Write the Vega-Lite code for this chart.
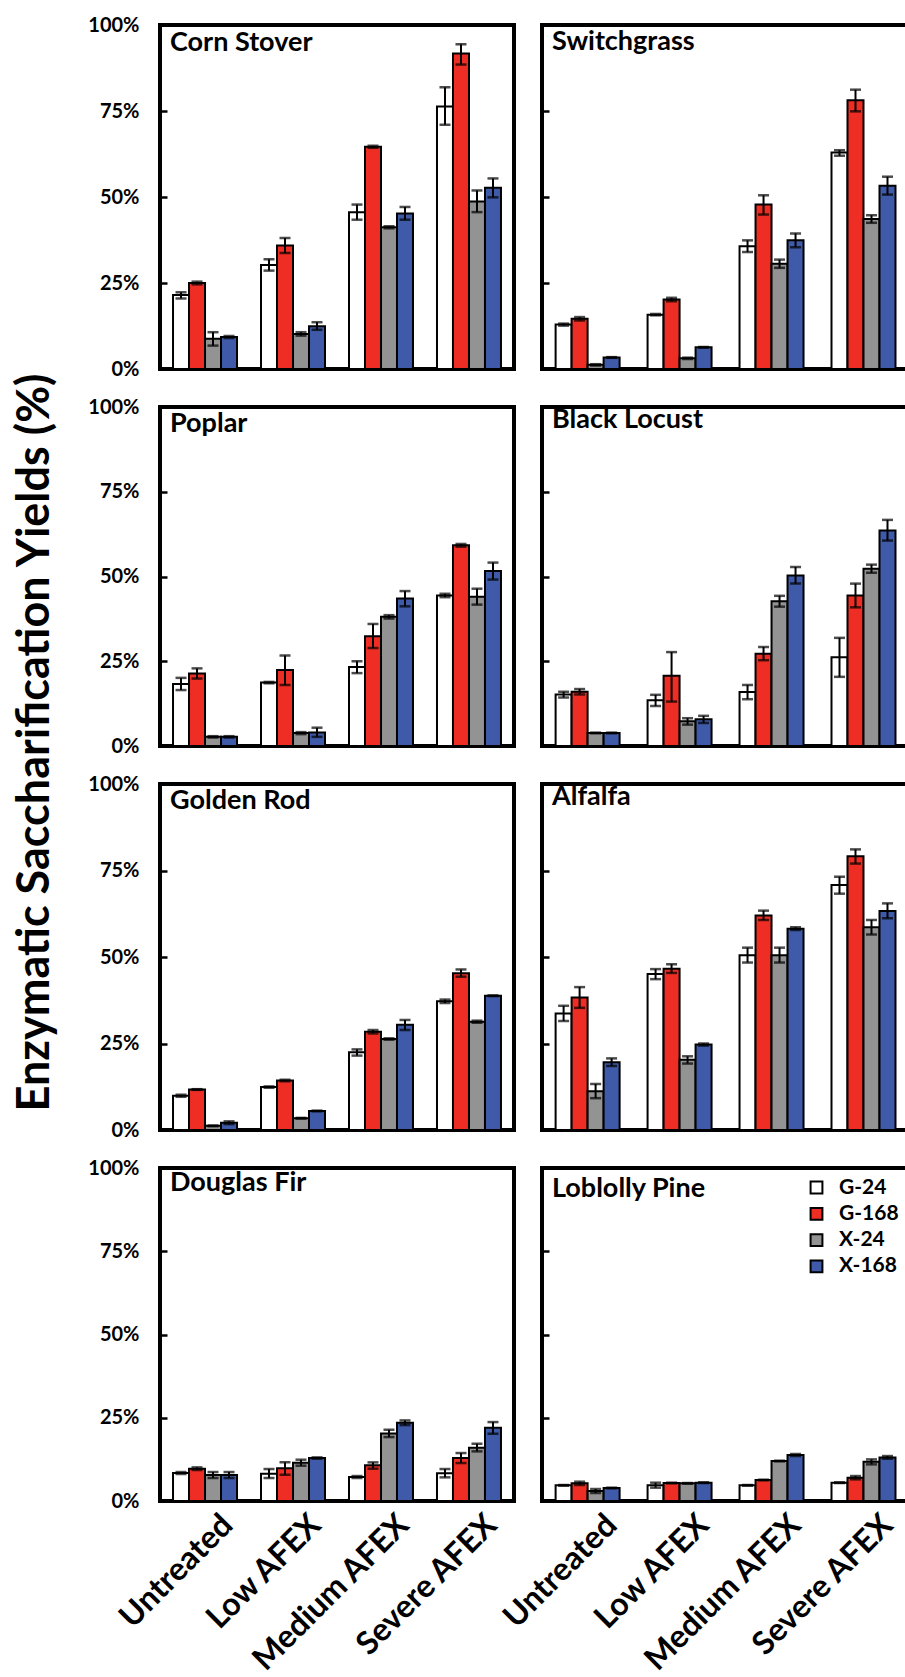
{
  "$schema": "https://vega.github.io/schema/vega-lite/v6.json",
  "padding": {"left": 9, "top": 13, "right": 0, "bottom": 0},
  "background": "white",
  "data": {"values": [
    {"panel":"Corn Stover","treatment":"Untreated","series":"G-24","value":21.5,"lo":20.5,"hi":22.3},
    {"panel":"Corn Stover","treatment":"Untreated","series":"G-168","value":25.0,"lo":24.6,"hi":25.4},
    {"panel":"Corn Stover","treatment":"Untreated","series":"X-24","value":8.8,"lo":6.8,"hi":10.7},
    {"panel":"Corn Stover","treatment":"Untreated","series":"X-168","value":9.3,"lo":9.0,"hi":9.6},
    {"panel":"Corn Stover","treatment":"Low AFEX","series":"G-24","value":30.2,"lo":28.6,"hi":31.9},
    {"panel":"Corn Stover","treatment":"Low AFEX","series":"G-168","value":35.9,"lo":33.7,"hi":38.1},
    {"panel":"Corn Stover","treatment":"Low AFEX","series":"X-24","value":10.2,"lo":9.7,"hi":10.7},
    {"panel":"Corn Stover","treatment":"Low AFEX","series":"X-168","value":12.4,"lo":11.4,"hi":13.6},
    {"panel":"Corn Stover","treatment":"Medium AFEX","series":"G-24","value":45.6,"lo":43.4,"hi":47.8},
    {"panel":"Corn Stover","treatment":"Medium AFEX","series":"G-168","value":64.6,"lo":64.3,"hi":64.9},
    {"panel":"Corn Stover","treatment":"Medium AFEX","series":"X-24","value":41.2,"lo":40.9,"hi":41.5},
    {"panel":"Corn Stover","treatment":"Medium AFEX","series":"X-168","value":45.2,"lo":43.4,"hi":47.1},
    {"panel":"Corn Stover","treatment":"Severe AFEX","series":"G-24","value":76.3,"lo":71.0,"hi":81.9},
    {"panel":"Corn Stover","treatment":"Severe AFEX","series":"G-168","value":91.7,"lo":88.5,"hi":94.4},
    {"panel":"Corn Stover","treatment":"Severe AFEX","series":"X-24","value":48.7,"lo":45.6,"hi":51.9},
    {"panel":"Corn Stover","treatment":"Severe AFEX","series":"X-168","value":52.7,"lo":49.9,"hi":55.4},

    {"panel":"Switchgrass","treatment":"Untreated","series":"G-24","value":12.9,"lo":12.6,"hi":13.2},
    {"panel":"Switchgrass","treatment":"Untreated","series":"G-168","value":14.6,"lo":14.1,"hi":15.1},
    {"panel":"Switchgrass","treatment":"Untreated","series":"X-24","value":1.2,"lo":1.0,"hi":1.4},
    {"panel":"Switchgrass","treatment":"Untreated","series":"X-168","value":3.35,"lo":3.25,"hi":3.45},
    {"panel":"Switchgrass","treatment":"Low AFEX","series":"G-24","value":15.8,"lo":15.6,"hi":16.0},
    {"panel":"Switchgrass","treatment":"Low AFEX","series":"G-168","value":20.2,"lo":19.7,"hi":20.7},
    {"panel":"Switchgrass","treatment":"Low AFEX","series":"X-24","value":3.1,"lo":2.9,"hi":3.3},
    {"panel":"Switchgrass","treatment":"Low AFEX","series":"X-168","value":6.3,"lo":6.2,"hi":6.4},
    {"panel":"Switchgrass","treatment":"Medium AFEX","series":"G-24","value":35.7,"lo":34.0,"hi":37.4},
    {"panel":"Switchgrass","treatment":"Medium AFEX","series":"G-168","value":47.8,"lo":44.9,"hi":50.5},
    {"panel":"Switchgrass","treatment":"Medium AFEX","series":"X-24","value":30.6,"lo":29.4,"hi":31.8},
    {"panel":"Switchgrass","treatment":"Medium AFEX","series":"X-168","value":37.4,"lo":35.4,"hi":39.4},
    {"panel":"Switchgrass","treatment":"Severe AFEX","series":"G-24","value":62.9,"lo":62.0,"hi":63.6},
    {"panel":"Switchgrass","treatment":"Severe AFEX","series":"G-168","value":78.1,"lo":74.9,"hi":81.2},
    {"panel":"Switchgrass","treatment":"Severe AFEX","series":"X-24","value":43.6,"lo":42.5,"hi":44.7},
    {"panel":"Switchgrass","treatment":"Severe AFEX","series":"X-168","value":53.3,"lo":50.7,"hi":55.9},

    {"panel":"Poplar","treatment":"Untreated","series":"G-24","value":18.3,"lo":16.5,"hi":20.1},
    {"panel":"Poplar","treatment":"Untreated","series":"G-168","value":21.4,"lo":19.9,"hi":22.9},
    {"panel":"Poplar","treatment":"Untreated","series":"X-24","value":2.7,"lo":2.5,"hi":2.9},
    {"panel":"Poplar","treatment":"Untreated","series":"X-168","value":2.7,"lo":2.5,"hi":2.9},
    {"panel":"Poplar","treatment":"Low AFEX","series":"G-24","value":18.7,"lo":18.5,"hi":18.9},
    {"panel":"Poplar","treatment":"Low AFEX","series":"G-168","value":22.4,"lo":18.0,"hi":26.7},
    {"panel":"Poplar","treatment":"Low AFEX","series":"X-24","value":3.8,"lo":3.5,"hi":4.1},
    {"panel":"Poplar","treatment":"Low AFEX","series":"X-168","value":4.0,"lo":2.7,"hi":5.4},
    {"panel":"Poplar","treatment":"Medium AFEX","series":"G-24","value":23.3,"lo":21.5,"hi":25.0},
    {"panel":"Poplar","treatment":"Medium AFEX","series":"G-168","value":32.4,"lo":28.9,"hi":36.0},
    {"panel":"Poplar","treatment":"Medium AFEX","series":"X-24","value":38.1,"lo":37.6,"hi":38.6},
    {"panel":"Poplar","treatment":"Medium AFEX","series":"X-168","value":43.5,"lo":41.2,"hi":45.7},
    {"panel":"Poplar","treatment":"Severe AFEX","series":"G-24","value":44.4,"lo":43.9,"hi":44.9},
    {"panel":"Poplar","treatment":"Severe AFEX","series":"G-168","value":59.2,"lo":58.8,"hi":59.6},
    {"panel":"Poplar","treatment":"Severe AFEX","series":"X-24","value":44.0,"lo":41.7,"hi":46.4},
    {"panel":"Poplar","treatment":"Severe AFEX","series":"X-168","value":51.6,"lo":49.1,"hi":54.1},

    {"panel":"Black Locust","treatment":"Untreated","series":"G-24","value":15.2,"lo":14.3,"hi":16.0},
    {"panel":"Black Locust","treatment":"Untreated","series":"G-168","value":16.0,"lo":15.2,"hi":16.8},
    {"panel":"Black Locust","treatment":"Untreated","series":"X-24","value":3.85,"lo":3.75,"hi":3.95},
    {"panel":"Black Locust","treatment":"Untreated","series":"X-168","value":3.85,"lo":3.75,"hi":3.95},
    {"panel":"Black Locust","treatment":"Low AFEX","series":"G-24","value":13.5,"lo":11.8,"hi":15.1},
    {"panel":"Black Locust","treatment":"Low AFEX","series":"G-168","value":20.7,"lo":13.1,"hi":27.7},
    {"panel":"Black Locust","treatment":"Low AFEX","series":"X-24","value":7.3,"lo":6.3,"hi":8.2},
    {"panel":"Black Locust","treatment":"Low AFEX","series":"X-168","value":7.9,"lo":6.8,"hi":8.9},
    {"panel":"Black Locust","treatment":"Medium AFEX","series":"G-24","value":15.9,"lo":13.8,"hi":18.0},
    {"panel":"Black Locust","treatment":"Medium AFEX","series":"G-168","value":27.2,"lo":25.3,"hi":29.2},
    {"panel":"Black Locust","treatment":"Medium AFEX","series":"X-24","value":42.7,"lo":41.1,"hi":44.3},
    {"panel":"Black Locust","treatment":"Medium AFEX","series":"X-168","value":50.3,"lo":47.9,"hi":52.8},
    {"panel":"Black Locust","treatment":"Severe AFEX","series":"G-24","value":26.2,"lo":20.4,"hi":31.9},
    {"panel":"Black Locust","treatment":"Severe AFEX","series":"G-168","value":44.4,"lo":40.9,"hi":47.9},
    {"panel":"Black Locust","treatment":"Severe AFEX","series":"X-24","value":52.3,"lo":51.1,"hi":53.5},
    {"panel":"Black Locust","treatment":"Severe AFEX","series":"X-168","value":63.6,"lo":60.6,"hi":66.7},

    {"panel":"Golden Rod","treatment":"Untreated","series":"G-24","value":9.9,"lo":9.6,"hi":10.2},
    {"panel":"Golden Rod","treatment":"Untreated","series":"G-168","value":11.7,"lo":11.6,"hi":11.8},
    {"panel":"Golden Rod","treatment":"Untreated","series":"X-24","value":1.2,"lo":1.1,"hi":1.3},
    {"panel":"Golden Rod","treatment":"Untreated","series":"X-168","value":2.1,"lo":1.7,"hi":2.5},
    {"panel":"Golden Rod","treatment":"Low AFEX","series":"G-24","value":12.4,"lo":12.2,"hi":12.6},
    {"panel":"Golden Rod","treatment":"Low AFEX","series":"G-168","value":14.3,"lo":14.1,"hi":14.5},
    {"panel":"Golden Rod","treatment":"Low AFEX","series":"X-24","value":3.4,"lo":3.3,"hi":3.5},
    {"panel":"Golden Rod","treatment":"Low AFEX","series":"X-168","value":5.5,"lo":5.4,"hi":5.6},
    {"panel":"Golden Rod","treatment":"Medium AFEX","series":"G-24","value":22.5,"lo":21.5,"hi":23.3},
    {"panel":"Golden Rod","treatment":"Medium AFEX","series":"G-168","value":28.4,"lo":27.9,"hi":28.9},
    {"panel":"Golden Rod","treatment":"Medium AFEX","series":"X-24","value":26.3,"lo":26.1,"hi":26.5},
    {"panel":"Golden Rod","treatment":"Medium AFEX","series":"X-168","value":30.4,"lo":28.9,"hi":31.8},
    {"panel":"Golden Rod","treatment":"Severe AFEX","series":"G-24","value":37.2,"lo":36.7,"hi":37.7},
    {"panel":"Golden Rod","treatment":"Severe AFEX","series":"G-168","value":45.3,"lo":44.3,"hi":46.4},
    {"panel":"Golden Rod","treatment":"Severe AFEX","series":"X-24","value":31.3,"lo":31.0,"hi":31.6},
    {"panel":"Golden Rod","treatment":"Severe AFEX","series":"X-168","value":38.8,"lo":38.7,"hi":38.9},

    {"panel":"Alfalfa","treatment":"Untreated","series":"G-24","value":33.7,"lo":31.5,"hi":35.9},
    {"panel":"Alfalfa","treatment":"Untreated","series":"G-168","value":38.3,"lo":35.3,"hi":41.3},
    {"panel":"Alfalfa","treatment":"Untreated","series":"X-24","value":11.2,"lo":9.2,"hi":13.3},
    {"panel":"Alfalfa","treatment":"Untreated","series":"X-168","value":19.6,"lo":18.5,"hi":20.7},
    {"panel":"Alfalfa","treatment":"Low AFEX","series":"G-24","value":45.1,"lo":43.6,"hi":46.5},
    {"panel":"Alfalfa","treatment":"Low AFEX","series":"G-168","value":46.6,"lo":45.4,"hi":47.9},
    {"panel":"Alfalfa","treatment":"Low AFEX","series":"X-24","value":20.3,"lo":19.2,"hi":21.3},
    {"panel":"Alfalfa","treatment":"Low AFEX","series":"X-168","value":24.7,"lo":24.4,"hi":25.0},
    {"panel":"Alfalfa","treatment":"Medium AFEX","series":"G-24","value":50.5,"lo":48.4,"hi":52.7},
    {"panel":"Alfalfa","treatment":"Medium AFEX","series":"G-168","value":62.0,"lo":60.7,"hi":63.4},
    {"panel":"Alfalfa","treatment":"Medium AFEX","series":"X-24","value":50.5,"lo":48.4,"hi":52.7},
    {"panel":"Alfalfa","treatment":"Medium AFEX","series":"X-168","value":58.2,"lo":57.8,"hi":58.6},
    {"panel":"Alfalfa","treatment":"Severe AFEX","series":"G-24","value":70.8,"lo":68.3,"hi":73.2},
    {"panel":"Alfalfa","treatment":"Severe AFEX","series":"G-168","value":79.1,"lo":77.0,"hi":81.1},
    {"panel":"Alfalfa","treatment":"Severe AFEX","series":"X-24","value":58.6,"lo":56.5,"hi":60.7},
    {"panel":"Alfalfa","treatment":"Severe AFEX","series":"X-168","value":63.3,"lo":61.2,"hi":65.5},

    {"panel":"Douglas Fir","treatment":"Untreated","series":"G-24","value":8.4,"lo":8.1,"hi":8.7},
    {"panel":"Douglas Fir","treatment":"Untreated","series":"G-168","value":9.7,"lo":9.3,"hi":10.1},
    {"panel":"Douglas Fir","treatment":"Untreated","series":"X-24","value":7.8,"lo":6.9,"hi":8.7},
    {"panel":"Douglas Fir","treatment":"Untreated","series":"X-168","value":7.8,"lo":6.9,"hi":8.7},
    {"panel":"Douglas Fir","treatment":"Low AFEX","series":"G-24","value":8.2,"lo":6.9,"hi":9.6},
    {"panel":"Douglas Fir","treatment":"Low AFEX","series":"G-168","value":9.8,"lo":7.9,"hi":11.6},
    {"panel":"Douglas Fir","treatment":"Low AFEX","series":"X-24","value":11.5,"lo":10.6,"hi":12.4},
    {"panel":"Douglas Fir","treatment":"Low AFEX","series":"X-168","value":12.9,"lo":12.7,"hi":13.1},
    {"panel":"Douglas Fir","treatment":"Medium AFEX","series":"G-24","value":7.2,"lo":6.9,"hi":7.5},
    {"panel":"Douglas Fir","treatment":"Medium AFEX","series":"G-168","value":10.7,"lo":9.7,"hi":11.6},
    {"panel":"Douglas Fir","treatment":"Medium AFEX","series":"X-24","value":20.3,"lo":19.2,"hi":21.4},
    {"panel":"Douglas Fir","treatment":"Medium AFEX","series":"X-168","value":23.5,"lo":22.8,"hi":24.2},
    {"panel":"Douglas Fir","treatment":"Severe AFEX","series":"G-24","value":8.3,"lo":7.1,"hi":9.6},
    {"panel":"Douglas Fir","treatment":"Severe AFEX","series":"G-168","value":12.9,"lo":11.4,"hi":14.4},
    {"panel":"Douglas Fir","treatment":"Severe AFEX","series":"X-24","value":16.0,"lo":14.9,"hi":17.2},
    {"panel":"Douglas Fir","treatment":"Severe AFEX","series":"X-168","value":22.0,"lo":20.2,"hi":23.7},

    {"panel":"Loblolly Pine","treatment":"Untreated","series":"G-24","value":4.7,"lo":4.6,"hi":4.8},
    {"panel":"Loblolly Pine","treatment":"Untreated","series":"G-168","value":5.3,"lo":4.8,"hi":5.8},
    {"panel":"Loblolly Pine","treatment":"Untreated","series":"X-24","value":3.0,"lo":2.4,"hi":3.6},
    {"panel":"Loblolly Pine","treatment":"Untreated","series":"X-168","value":3.9,"lo":3.8,"hi":4.0},
    {"panel":"Loblolly Pine","treatment":"Low AFEX","series":"G-24","value":4.7,"lo":4.0,"hi":5.5},
    {"panel":"Loblolly Pine","treatment":"Low AFEX","series":"G-168","value":5.4,"lo":5.3,"hi":5.5},
    {"panel":"Loblolly Pine","treatment":"Low AFEX","series":"X-24","value":5.3,"lo":5.2,"hi":5.4},
    {"panel":"Loblolly Pine","treatment":"Low AFEX","series":"X-168","value":5.5,"lo":5.4,"hi":5.6},
    {"panel":"Loblolly Pine","treatment":"Medium AFEX","series":"G-24","value":4.7,"lo":4.6,"hi":4.8},
    {"panel":"Loblolly Pine","treatment":"Medium AFEX","series":"G-168","value":6.3,"lo":6.2,"hi":6.4},
    {"panel":"Loblolly Pine","treatment":"Medium AFEX","series":"X-24","value":12.0,"lo":11.9,"hi":12.1},
    {"panel":"Loblolly Pine","treatment":"Medium AFEX","series":"X-168","value":13.8,"lo":13.5,"hi":14.1},
    {"panel":"Loblolly Pine","treatment":"Severe AFEX","series":"G-24","value":5.5,"lo":5.4,"hi":5.6},
    {"panel":"Loblolly Pine","treatment":"Severe AFEX","series":"G-168","value":7.0,"lo":6.5,"hi":7.5},
    {"panel":"Loblolly Pine","treatment":"Severe AFEX","series":"X-24","value":11.8,"lo":11.0,"hi":12.5},
    {"panel":"Loblolly Pine","treatment":"Severe AFEX","series":"X-168","value":13.1,"lo":12.7,"hi":13.5}
  ]},
  "bounds": "flush",
  "columns": 2,
  "spacing": {"row": 38, "column": 28},
  "concat": [
    {
      "width": 354, "height": 344,
      "title": {"text": "Corn Stover", "offset": -42},
      "transform": [{"filter": "datum.panel === 'Corn Stover'"}],
      "encoding": {
        "x": {"field": "treatment", "type": "nominal", "sort": ["Untreated","Low AFEX","Medium AFEX","Severe AFEX"], "scale": {"paddingInner": 0.2727, "paddingOuter": 0.148}, "axis": null},
        "xOffset": {"field": "series", "type": "nominal", "sort": ["G-24","G-168","X-24","X-168"], "scale": {"paddingInner": 0, "paddingOuter": 0}}
      },
      "layer": [
        {"mark": "bar", "encoding": {
          "y": {"field": "value", "type": "quantitative", "scale": {"domain": [0, 100], "nice": false}, "title": null, "axis": {"values": [0,25,50,75,100], "labelExpr": "datum.value + '%'"}},
          "color": {"field": "series", "type": "nominal", "title": null, "scale": {"domain": ["G-24","G-168","X-24","X-168"], "range": ["#FFFFFF","#EE2E24","#939393","#3E5AA8"]}}
        }},
        {"mark": "rule", "encoding": {"y": {"field": "lo", "type": "quantitative", "scale": {"domain": [0, 100], "nice": false}, "title": null}, "y2": {"field": "hi"}}},
        {"mark": "tick", "encoding": {"y": {"field": "hi", "type": "quantitative", "scale": {"domain": [0, 100], "nice": false}, "title": null}}},
        {"mark": "tick", "encoding": {"y": {"field": "lo", "type": "quantitative", "scale": {"domain": [0, 100], "nice": false}, "title": null}}}
      ]
    },
    {
      "width": 370, "height": 344,
      "title": {"text": "Switchgrass", "offset": -32},
      "transform": [{"filter": "datum.panel === 'Switchgrass'"}],
      "encoding": {
        "x": {"field": "treatment", "type": "nominal", "sort": ["Untreated","Low AFEX","Medium AFEX","Severe AFEX"], "scale": {"paddingInner": 0.2727, "paddingOuter": 0.148}, "axis": null},
        "xOffset": {"field": "series", "type": "nominal", "sort": ["G-24","G-168","X-24","X-168"], "scale": {"paddingInner": 0, "paddingOuter": 0}}
      },
      "layer": [
        {"mark": "bar", "encoding": {
          "y": {"field": "value", "type": "quantitative", "scale": {"domain": [0, 100], "nice": false}, "title": null, "axis": {"values": [0,25,50,75,100], "labels": false}},
          "color": {"field": "series", "type": "nominal", "title": null, "scale": {"domain": ["G-24","G-168","X-24","X-168"], "range": ["#FFFFFF","#EE2E24","#939393","#3E5AA8"]}}
        }},
        {"mark": "rule", "encoding": {"y": {"field": "lo", "type": "quantitative", "scale": {"domain": [0, 100], "nice": false}, "title": null}, "y2": {"field": "hi"}}},
        {"mark": "tick", "encoding": {"y": {"field": "hi", "type": "quantitative", "scale": {"domain": [0, 100], "nice": false}, "title": null}}},
        {"mark": "tick", "encoding": {"y": {"field": "lo", "type": "quantitative", "scale": {"domain": [0, 100], "nice": false}, "title": null}}}
      ]
    },
    {
      "width": 354, "height": 339,
      "title": {"text": "Poplar", "offset": -41},
      "transform": [{"filter": "datum.panel === 'Poplar'"}],
      "encoding": {
        "x": {"field": "treatment", "type": "nominal", "sort": ["Untreated","Low AFEX","Medium AFEX","Severe AFEX"], "scale": {"paddingInner": 0.2727, "paddingOuter": 0.148}, "axis": null},
        "xOffset": {"field": "series", "type": "nominal", "sort": ["G-24","G-168","X-24","X-168"], "scale": {"paddingInner": 0, "paddingOuter": 0}}
      },
      "layer": [
        {"mark": "bar", "encoding": {
          "y": {"field": "value", "type": "quantitative", "scale": {"domain": [0, 100], "nice": false}, "title": null, "axis": {"values": [0,25,50,75,100], "labelExpr": "datum.value + '%'"}},
          "color": {"field": "series", "type": "nominal", "title": null, "scale": {"domain": ["G-24","G-168","X-24","X-168"], "range": ["#FFFFFF","#EE2E24","#939393","#3E5AA8"]}}
        }},
        {"mark": "rule", "encoding": {"y": {"field": "lo", "type": "quantitative", "scale": {"domain": [0, 100], "nice": false}, "title": null}, "y2": {"field": "hi"}}},
        {"mark": "tick", "encoding": {"y": {"field": "hi", "type": "quantitative", "scale": {"domain": [0, 100], "nice": false}, "title": null}}},
        {"mark": "tick", "encoding": {"y": {"field": "lo", "type": "quantitative", "scale": {"domain": [0, 100], "nice": false}, "title": null}}}
      ]
    },
    {
      "width": 370, "height": 339,
      "title": {"text": "Black Locust", "offset": -28},
      "transform": [{"filter": "datum.panel === 'Black Locust'"}],
      "encoding": {
        "x": {"field": "treatment", "type": "nominal", "sort": ["Untreated","Low AFEX","Medium AFEX","Severe AFEX"], "scale": {"paddingInner": 0.2727, "paddingOuter": 0.148}, "axis": null},
        "xOffset": {"field": "series", "type": "nominal", "sort": ["G-24","G-168","X-24","X-168"], "scale": {"paddingInner": 0, "paddingOuter": 0}}
      },
      "layer": [
        {"mark": "bar", "encoding": {
          "y": {"field": "value", "type": "quantitative", "scale": {"domain": [0, 100], "nice": false}, "title": null, "axis": {"values": [0,25,50,75,100], "labels": false}},
          "color": {"field": "series", "type": "nominal", "title": null, "scale": {"domain": ["G-24","G-168","X-24","X-168"], "range": ["#FFFFFF","#EE2E24","#939393","#3E5AA8"]}}
        }},
        {"mark": "rule", "encoding": {"y": {"field": "lo", "type": "quantitative", "scale": {"domain": [0, 100], "nice": false}, "title": null}, "y2": {"field": "hi"}}},
        {"mark": "tick", "encoding": {"y": {"field": "hi", "type": "quantitative", "scale": {"domain": [0, 100], "nice": false}, "title": null}}},
        {"mark": "tick", "encoding": {"y": {"field": "lo", "type": "quantitative", "scale": {"domain": [0, 100], "nice": false}, "title": null}}}
      ]
    },
    {
      "width": 354, "height": 346,
      "title": {"text": "Golden Rod", "offset": -443},
      "transform": [{"filter": "datum.panel === 'Golden Rod'"}],
      "encoding": {
        "x": {"field": "treatment", "type": "nominal", "sort": ["Untreated","Low AFEX","Medium AFEX","Severe AFEX"], "scale": {"paddingInner": 0.2727, "paddingOuter": 0.148}, "axis": null},
        "xOffset": {"field": "series", "type": "nominal", "sort": ["G-24","G-168","X-24","X-168"], "scale": {"paddingInner": 0, "paddingOuter": 0}}
      },
      "layer": [
        {"mark": "bar", "encoding": {
          "y": {"field": "value", "type": "quantitative", "scale": {"domain": [0, 100], "nice": false}, "title": "Enzymatic Saccharification Yields (%)", "axis": {"values": [0,25,50,75,100], "labelExpr": "datum.value + '%'", "titleX": -112, "titleY": -42, "titleAngle": -90, "titleAlign": "center", "titleBaseline": "alphabetic", "titleFontSize": 45, "titleFont": "Lato", "titleFontWeight": "bold", "titleColor": "black"}},
          "color": {"field": "series", "type": "nominal", "title": null, "scale": {"domain": ["G-24","G-168","X-24","X-168"], "range": ["#FFFFFF","#EE2E24","#939393","#3E5AA8"]}}
        }},
        {"mark": "rule", "encoding": {"y": {"field": "lo", "type": "quantitative", "scale": {"domain": [0, 100], "nice": false}, "title": "Enzymatic Saccharification Yields (%)"}, "y2": {"field": "hi"}}},
        {"mark": "tick", "encoding": {"y": {"field": "hi", "type": "quantitative", "scale": {"domain": [0, 100], "nice": false}, "title": "Enzymatic Saccharification Yields (%)"}}},
        {"mark": "tick", "encoding": {"y": {"field": "lo", "type": "quantitative", "scale": {"domain": [0, 100], "nice": false}, "title": "Enzymatic Saccharification Yields (%)"}}}
      ]
    },
    {
      "width": 370, "height": 346,
      "title": {"text": "Alfalfa", "offset": -28},
      "transform": [{"filter": "datum.panel === 'Alfalfa'"}],
      "encoding": {
        "x": {"field": "treatment", "type": "nominal", "sort": ["Untreated","Low AFEX","Medium AFEX","Severe AFEX"], "scale": {"paddingInner": 0.2727, "paddingOuter": 0.148}, "axis": null},
        "xOffset": {"field": "series", "type": "nominal", "sort": ["G-24","G-168","X-24","X-168"], "scale": {"paddingInner": 0, "paddingOuter": 0}}
      },
      "layer": [
        {"mark": "bar", "encoding": {
          "y": {"field": "value", "type": "quantitative", "scale": {"domain": [0, 100], "nice": false}, "title": null, "axis": {"values": [0,25,50,75,100], "labels": false}},
          "color": {"field": "series", "type": "nominal", "title": null, "scale": {"domain": ["G-24","G-168","X-24","X-168"], "range": ["#FFFFFF","#EE2E24","#939393","#3E5AA8"]}}
        }},
        {"mark": "rule", "encoding": {"y": {"field": "lo", "type": "quantitative", "scale": {"domain": [0, 100], "nice": false}, "title": null}, "y2": {"field": "hi"}}},
        {"mark": "tick", "encoding": {"y": {"field": "hi", "type": "quantitative", "scale": {"domain": [0, 100], "nice": false}, "title": null}}},
        {"mark": "tick", "encoding": {"y": {"field": "lo", "type": "quantitative", "scale": {"domain": [0, 100], "nice": false}, "title": null}}}
      ]
    },
    {
      "width": 354, "height": 333,
      "title": {"text": "Douglas Fir", "offset": -39},
      "transform": [{"filter": "datum.panel === 'Douglas Fir'"}],
      "encoding": {
        "x": {"field": "treatment", "type": "nominal", "sort": ["Untreated","Low AFEX","Medium AFEX","Severe AFEX"], "scale": {"paddingInner": 0.2727, "paddingOuter": 0.148}, "axis": {"title": null, "labelAngle": -45, "ticks": false, "domain": false, "labelFontSize": 32, "labelPadding": 8, "labelOffset": 12, "labelLimit": 400}},
        "xOffset": {"field": "series", "type": "nominal", "sort": ["G-24","G-168","X-24","X-168"], "scale": {"paddingInner": 0, "paddingOuter": 0}}
      },
      "layer": [
        {"mark": "bar", "encoding": {
          "y": {"field": "value", "type": "quantitative", "scale": {"domain": [0, 100], "nice": false}, "title": null, "axis": {"values": [0,25,50,75,100], "labelExpr": "datum.value + '%'"}},
          "color": {"field": "series", "type": "nominal", "title": null, "scale": {"domain": ["G-24","G-168","X-24","X-168"], "range": ["#FFFFFF","#EE2E24","#939393","#3E5AA8"]}}
        }},
        {"mark": "rule", "encoding": {"y": {"field": "lo", "type": "quantitative", "scale": {"domain": [0, 100], "nice": false}, "title": null}, "y2": {"field": "hi"}}},
        {"mark": "tick", "encoding": {"y": {"field": "hi", "type": "quantitative", "scale": {"domain": [0, 100], "nice": false}, "title": null}}},
        {"mark": "tick", "encoding": {"y": {"field": "lo", "type": "quantitative", "scale": {"domain": [0, 100], "nice": false}, "title": null}}}
      ]
    },
    {
      "width": 370, "height": 333,
      "title": {"text": "Loblolly Pine", "offset": -36},
      "transform": [{"filter": "datum.panel === 'Loblolly Pine'"}],
      "encoding": {
        "x": {"field": "treatment", "type": "nominal", "sort": ["Untreated","Low AFEX","Medium AFEX","Severe AFEX"], "scale": {"paddingInner": 0.2727, "paddingOuter": 0.148}, "axis": {"title": null, "labelAngle": -45, "ticks": false, "domain": false, "labelFontSize": 32, "labelPadding": 8, "labelOffset": 12, "labelLimit": 400}},
        "xOffset": {"field": "series", "type": "nominal", "sort": ["G-24","G-168","X-24","X-168"], "scale": {"paddingInner": 0, "paddingOuter": 0}}
      },
      "layer": [
        {"mark": "bar", "encoding": {
          "y": {"field": "value", "type": "quantitative", "scale": {"domain": [0, 100], "nice": false}, "title": null, "axis": {"values": [0,25,50,75,100], "labels": false}},
          "color": {"field": "series", "type": "nominal", "title": null, "scale": {"domain": ["G-24","G-168","X-24","X-168"], "range": ["#FFFFFF","#EE2E24","#939393","#3E5AA8"]}}
        }},
        {"mark": "rule", "encoding": {"y": {"field": "lo", "type": "quantitative", "scale": {"domain": [0, 100], "nice": false}, "title": null}, "y2": {"field": "hi"}}},
        {"mark": "tick", "encoding": {"y": {"field": "hi", "type": "quantitative", "scale": {"domain": [0, 100], "nice": false}, "title": null}}},
        {"mark": "tick", "encoding": {"y": {"field": "lo", "type": "quantitative", "scale": {"domain": [0, 100], "nice": false}, "title": null}}}
      ]
    }
  ],
  "config": {
    "view": {"stroke": "black", "strokeWidth": 4},
    "axis": {"labelFont": "Lato", "labelFontWeight": "bold", "labelColor": "black", "grid": false},
    "axisY": {"domain": false, "tickSize": -7, "tickWidth": 2.5, "tickColor": "black", "labelFontSize": 20, "labelPadding": 28},
    "legend": {"orient": "none", "legendX": 646, "legendY": 1152, "padding": 0, "symbolType": "square", "symbolSize": 140, "symbolStrokeColor": "black", "symbolStrokeWidth": 2, "symbolOpacity": 1, "labelFont": "Lato", "labelFontWeight": "bold", "labelFontSize": 21, "labelColor": "black", "labelOffset": 12, "rowPadding": 4.3},
    "title": {"anchor": "start", "frame": "group", "fontSize": 27, "font": "Lato", "fontWeight": "bold", "color": "black", "dx": 10, "baseline": "alphabetic"},
    "bar": {"stroke": "black", "strokeWidth": 2},
    "rule": {"color": "black", "strokeWidth": 2},
    "tick": {"color": "black", "thickness": 2.5, "size": 11}
  }
}
